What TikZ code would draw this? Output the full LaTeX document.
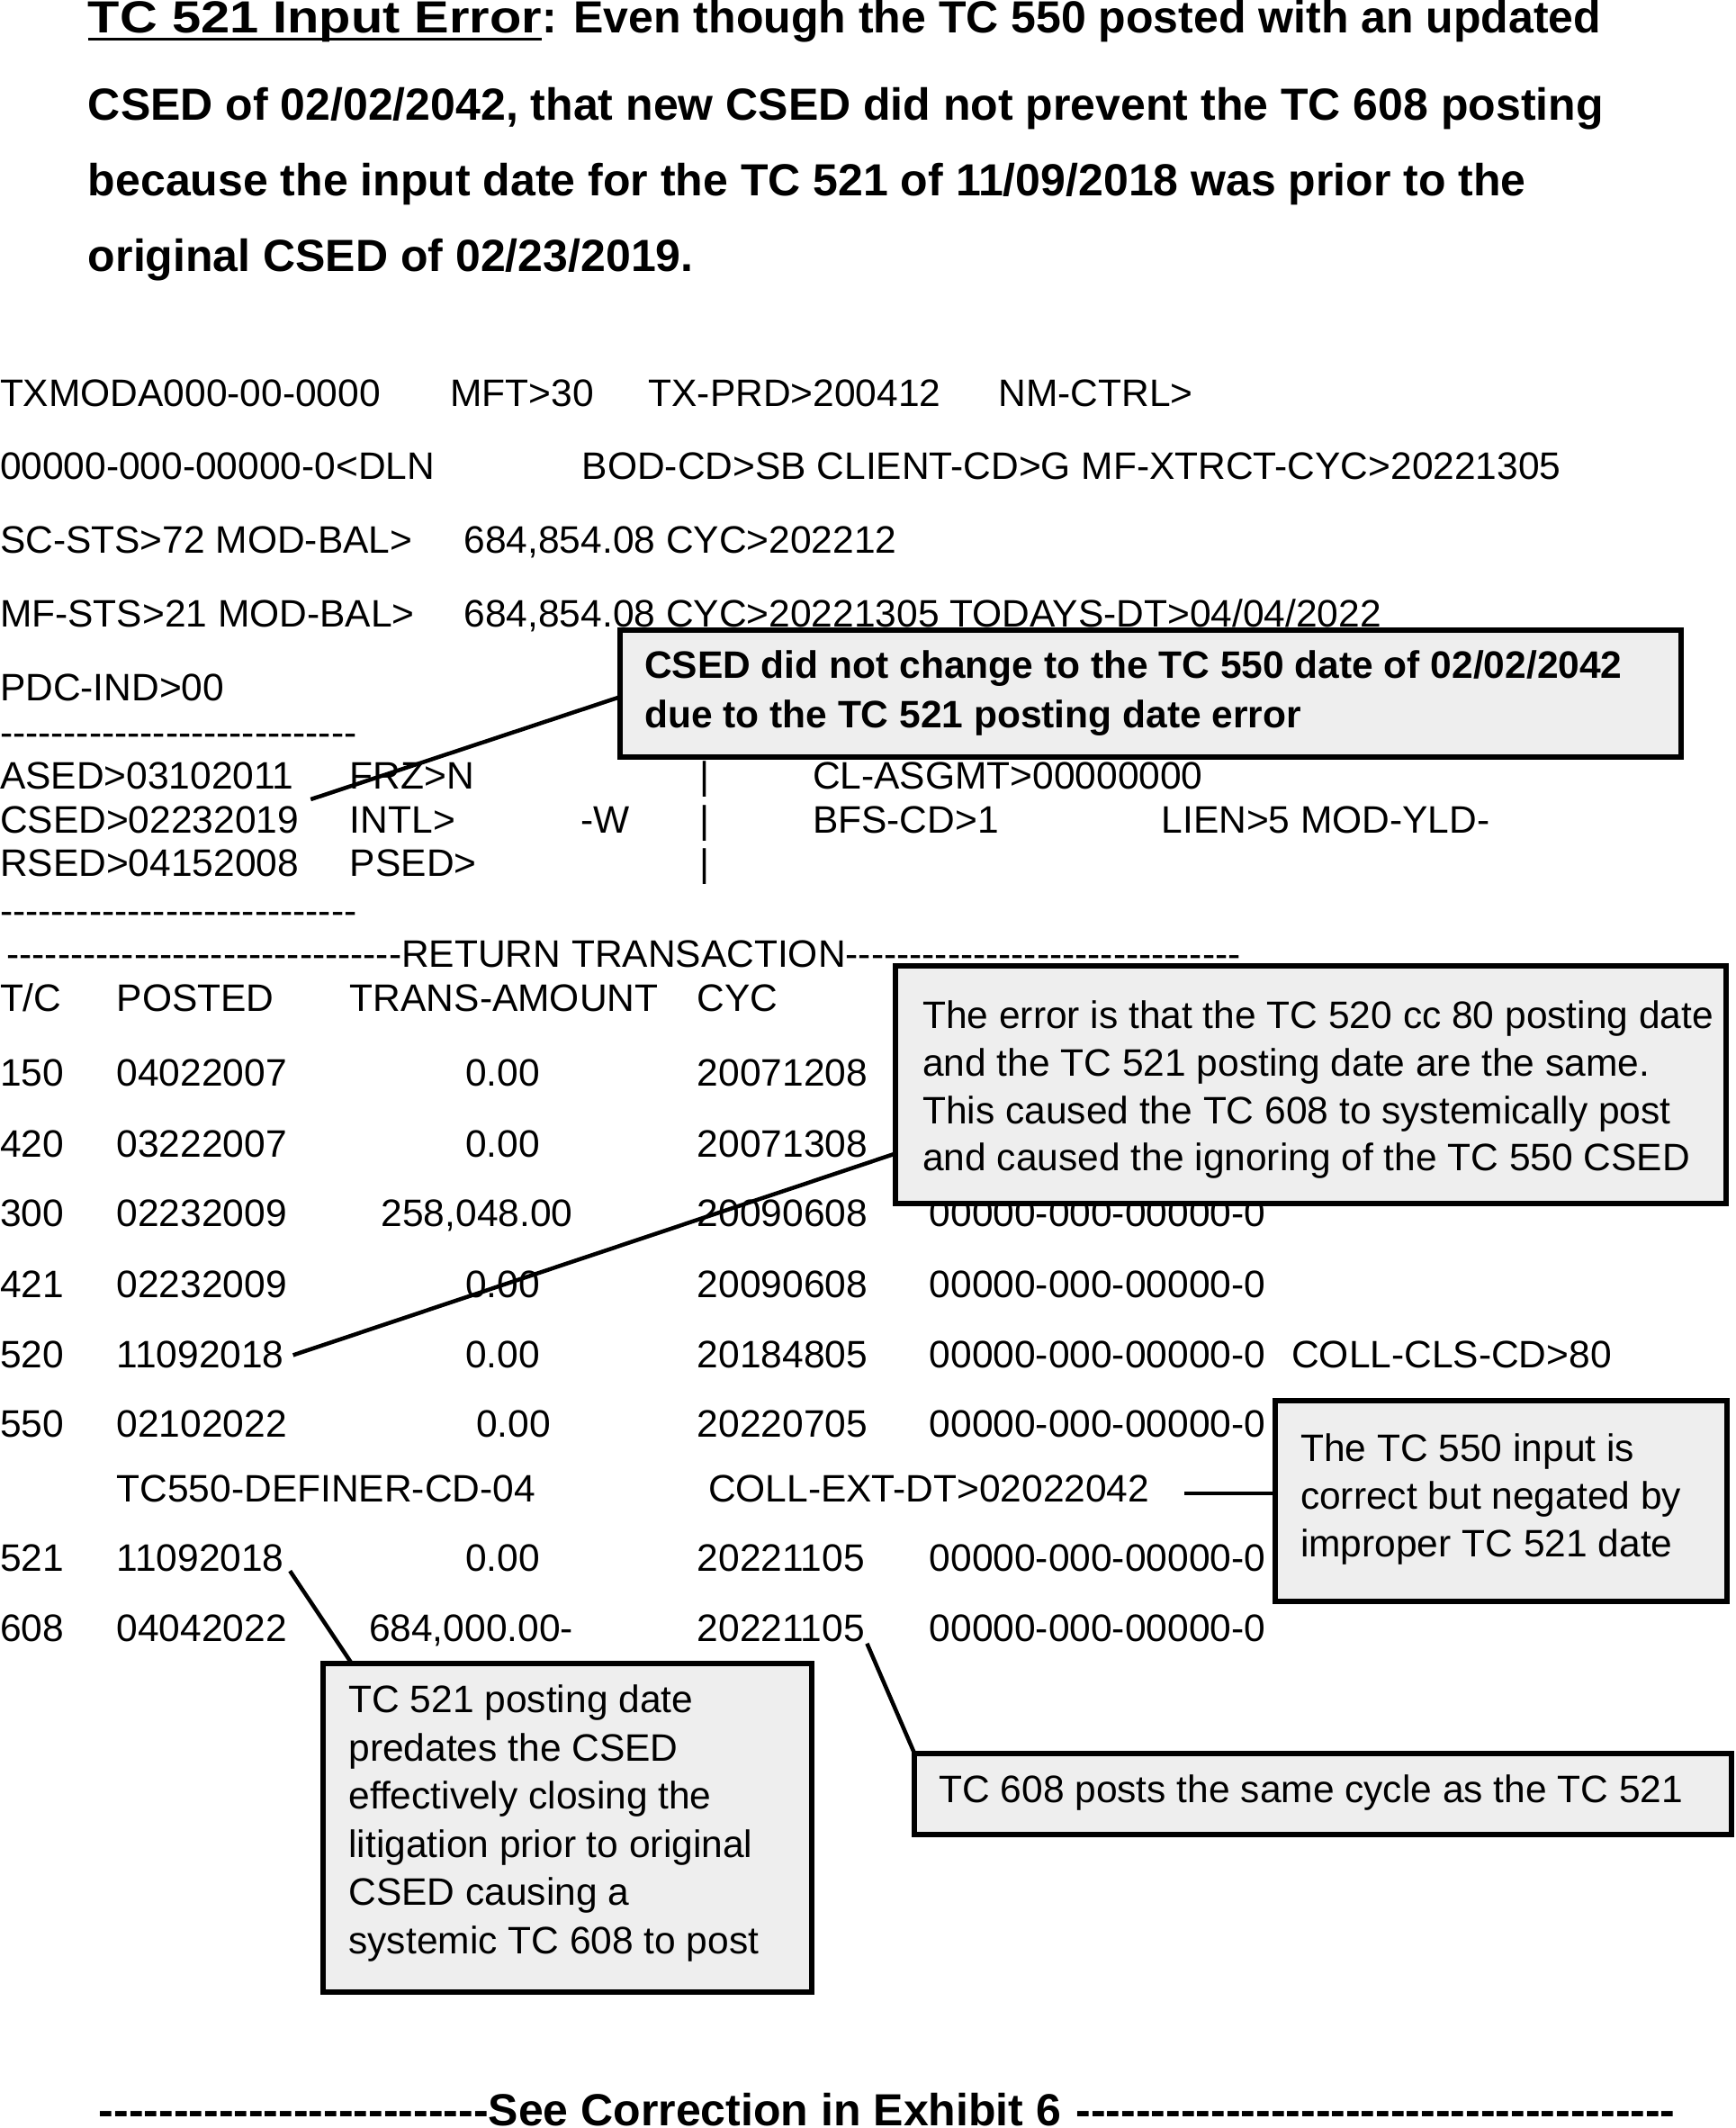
\documentclass[tikz,border=0pt]{standalone}
\usepackage{fontspec}
\setmainfont{Liberation Sans}
\usetikzlibrary{fit}
\definecolor{boxgray}{RGB}{238,238,238}
\newcommand\bodyfnt{\fontsize{42.5}{53.5}\selectfont}
\newcommand\titlefnt{\fontsize{50}{60}\selectfont\bfseries}
\ExplSyntaxOn
\NewDocumentCommand\dsh{m}{\prg_replicate:nn {#1} {-\kern0pt}}
\ExplSyntaxOff
\begin{document}
\begin{tikzpicture}[x=1.5075pt, y=-1.5075pt,
  txt/.style={anchor=base west, inner sep=0pt, outer sep=0pt, font=\bodyfnt},
  btxt/.style={anchor=base west, inner sep=0pt, outer sep=0pt, font=\bodyfnt\bfseries},
  ttl/.style={anchor=base west, inner sep=0pt, outer sep=0pt, font=\titlefnt},
  callout/.style={draw=black, line width=6pt, fill=boxgray, inner sep=0pt, outer sep=0pt},
  conn/.style={draw=black, line width=4.5pt},
  uline/.style={draw=black, line width=3.3pt}]
\useasboundingbox (0,0) rectangle (1279,1568);
\fill[white] (0,0) rectangle (1279,1568);

% ---------- title ----------
\node[ttl] (t1a) at (65,24.3) {\scalebox{1.156}[1]{TC 521 Input Error}};
\draw[uline] ([yshift=-6.6pt]t1a.base west) -- ([yshift=-6.6pt]t1a.base east);
\node[ttl] (t1b) at (t1a.base east) {: Even though the TC 550 posted with an updated};
\node[ttl] (t2) at (65,88.7) {CSED of 02/02/2042, that new CSED did not prevent the TC 608 posting};
\node[ttl] (t3) at (65,144.5) {because the input date for the TC 521 of 11/09/2018 was prior to the};
\node[ttl] (t4) at (65,200.3) {original CSED of 02/23/2019.};

% ---------- header block ----------
\node[txt] (h1a) at (0,299.5) {TXMODA000-00-0000};
\node[txt] (h1b) at (332,299.5) {MFT>30};
\node[txt] (h1c) at (478,299.5) {TX-PRD>200412};
\node[txt] (h1d) at (736,299.5) {NM-CTRL>};
\node[txt] (h2a) at (0,353.5) {00000-000-00000-0<DLN};
\node[txt] (h2b) at (429,353.5) {BOD-CD>SB CLIENT-CD>G MF-XTRCT-CYC>20221305};
\node[txt] (h3a) at (0,407.5) {SC-STS>72 MOD-BAL>};
\node[txt] (h3b) at (342,407.5) {684,854.08 CYC>202212};
\node[txt] (h4a) at (0,461.7) {MF-STS>21 MOD-BAL>};
\node[txt] (h4b) at (342,461.7) {684,854.08 CYC>20221305 TODAYS-DT>04/04/2022};
\node[txt] (h5a) at (0,516.5) {PDC-IND>00};
\node[txt] (d1) at (0,549.5) {\dsh{28}};
\node[txt] (s1a) at (0,581.6) {ASED>03102011};
\node[txt] (s1b) at (258,581.6) {FRZ>N};
\node[txt] (s1c) at (516,581.6) {|};
\node[txt] (s1d) at (599,581.6) {CL-ASGMT>00000000};
\node[txt] (s2a) at (0,614) {CSED>02232019};
\node[txt] (s2b) at (258,614) {INTL>};
\node[txt] (s2c) at (428,614) {-W};
\node[txt] (s2d) at (516,614) {|};
\node[txt] (s2e) at (599,614) {BFS-CD>1};
\node[txt] (s2f) at (856,614) {LIEN>5 MOD-YLD-};
\node[txt] (s3a) at (0,646) {RSED>04152008};
\node[txt] (s3b) at (258,646) {PSED>};
\node[txt] (s3c) at (516,646) {|};
\node[txt] (d2) at (0,681) {\dsh{28}};
\node[txt] (rt2) at (296,713) {RETURN TRANSACTION};
\node[txt, anchor=base east] (rt1) at (rt2.base west) {\dsh{31}};
\node[txt] (rt3) at (rt2.base east) {\dsh{31}};

% ---------- transaction table ----------
\node[txt] (hd1) at (0,745) {T/C};
\node[txt] (hd2) at (86,745) {POSTED};
\node[txt] (hd3) at (258,745) {TRANS-AMOUNT};
\node[txt] (hd4) at (514,745) {CYC};

\node[txt] (a150) at (0,800) {150};
\node[txt] (p150) at (86,800) {04022007};
\node[txt] (m150) at (343,800) {0.00};
\node[txt] (c150) at (514,800) {20071208};

\node[txt] (a420) at (0,852.4) {420};
\node[txt] (p420) at (86,852.4) {03222007};
\node[txt] (m420) at (343,852.4) {0.00};
\node[txt] (c420) at (514,852.4) {20071308};

\node[txt] (a300) at (0,904) {300};
\node[txt] (p300) at (86,904) {02232009};
\node[txt] (m300) at (281,904) {258,048.00};
\node[txt] (c300) at (514,904) {20090608};
\node[txt] (x300) at (685,904) {00000-000-00000-0};

\node[txt] (a421) at (0,956) {421};
\node[txt] (p421) at (86,956) {02232009};
\node[txt] (m421) at (343,956) {0.00};
\node[txt] (c421) at (514,956) {20090608};
\node[txt] (x421) at (685,956) {00000-000-00000-0};

\node[txt] (a520) at (0,1007.6) {520};
\node[txt] (p520) at (86,1007.6) {11092018};
\node[txt] (m520) at (343,1007.6) {0.00};
\node[txt] (c520) at (514,1007.6) {20184805};
\node[txt] (x520) at (685,1007.6) {00000-000-00000-0};
\node[txt] (k520) at (952,1007.6) {COLL-CLS-CD>80};

\node[txt] (a550) at (0,1058.7) {550};
\node[txt] (p550) at (86,1058.7) {02102022};
\node[txt] (m550) at (351,1058.7) {0.00};
\node[txt] (c550) at (514,1058.7) {20220705};
\node[txt] (x550) at (685,1058.7) {00000-000-00000-0};

\node[txt] (def) at (86,1106.4) {TC550-DEFINER-CD-04};
\node[txt] (ext) at (522,1106.4) {COLL-EXT-DT>02022042};

\node[txt] (a521) at (0,1157.5) {521};
\node[txt] (p521) at (86,1157.5) {11092018};
\node[txt] (m521) at (343,1157.5) {0.00};
\node[txt] (c521) at (514,1157.5) {20221105};
\node[txt] (x521) at (685,1157.5) {00000-000-00000-0};

\node[txt] (a608) at (0,1209.6) {608};
\node[txt] (p608) at (86,1209.6) {04042022};
\node[txt] (m608) at (272,1209.6) {684,000.00-};
\node[txt] (c608) at (514,1209.6) {20221105};
\node[txt] (x608) at (685,1209.6) {00000-000-00000-0};

% ---------- bottom line ----------
\node[ttl] (bl2) at (360,1566.5) {See Correction in Exhibit 6};
\node[ttl, anchor=base east] (bl1) at (bl2.base west) {\dsh{26}};
\node[ttl] (bl3) at (793,1566.5) {\dsh{40}};

% ---------- callout boxes (geometry) ----------
\coordinate (aS) at (229,589);
\coordinate (bS) at (216,998.5);
\coordinate (cS) at (873,1100.5);
\coordinate (dS) at (213.7,1157.5);
\coordinate (eS) at (639,1211);

\node[fit={(457,464) (1239,558)}, inner sep=0pt, outer sep=0pt] (boxA) {};
\node[fit={(660,712) (1272,887)}, inner sep=0pt, outer sep=0pt] (boxB) {};
\node[fit={(940,1032) (1273,1180)}, inner sep=0pt, outer sep=0pt] (boxC) {};
\node[fit={(238,1226) (598,1468)}, inner sep=0pt, outer sep=0pt] (boxD) {};
\node[fit={(674,1292) (1276,1352)}, inner sep=0pt, outer sep=0pt] (boxE) {};

% ---------- connectors ----------
\draw[conn] (aS) -- ([yshift=-3.8pt]boxA.west);
\draw[conn] (bS) -- ([yshift=-76.1pt]boxB.west);
\draw[conn] (cS) -- (cS -| boxC.west);
\draw[conn] (dS) -- ([xshift=32.3pt]boxD.north west);
\draw[conn] (eS) -- (boxE.north west);

% ---------- boxes drawn on top ----------
\foreach \b in {boxA,boxB,boxC,boxD,boxE}
  \draw[callout] (\b.north west) rectangle (\b.south east);

% ---------- box texts ----------
\node[btxt] (tA1) at (475,500) {CSED did not change to the TC 550 date of 02/02/2042};
\node[btxt] (tA2) at (475,536) {due to the TC 521 posting date error};

\node[txt] (tB1) at (680,757.5) {The error is that the TC 520 cc 80 posting date};
\node[txt] (tB2) at (680,793) {and the TC 521 posting date are the same.};
\node[txt] (tB3) at (680,828) {This caused the TC 608 to systemically post};
\node[txt] (tB4) at (680,862.5) {and caused the ignoring of the TC 550 CSED};

\node[txt] (tC1) at (958.5,1077) {The TC 550 input is};
\node[txt] (tC2) at (958.5,1112) {correct but negated by};
\node[txt] (tC3) at (958.5,1147) {improper TC 521 date};

\node[txt] (tD1) at (257,1262) {TC 521 posting date};
\node[txt] (tD2) at (257,1298) {predates the CSED};
\node[txt] (tD3) at (257,1333) {effectively closing the};
\node[txt] (tD4) at (257,1368.5) {litigation prior to original};
\node[txt] (tD5) at (257,1404) {CSED causing a};
\node[txt] (tD6) at (257,1439.5) {systemic TC 608 to post};

\node[txt] (tE1) at (692,1328.5) {TC 608 posts the same cycle as the TC 521};
\end{tikzpicture}
\end{document}
